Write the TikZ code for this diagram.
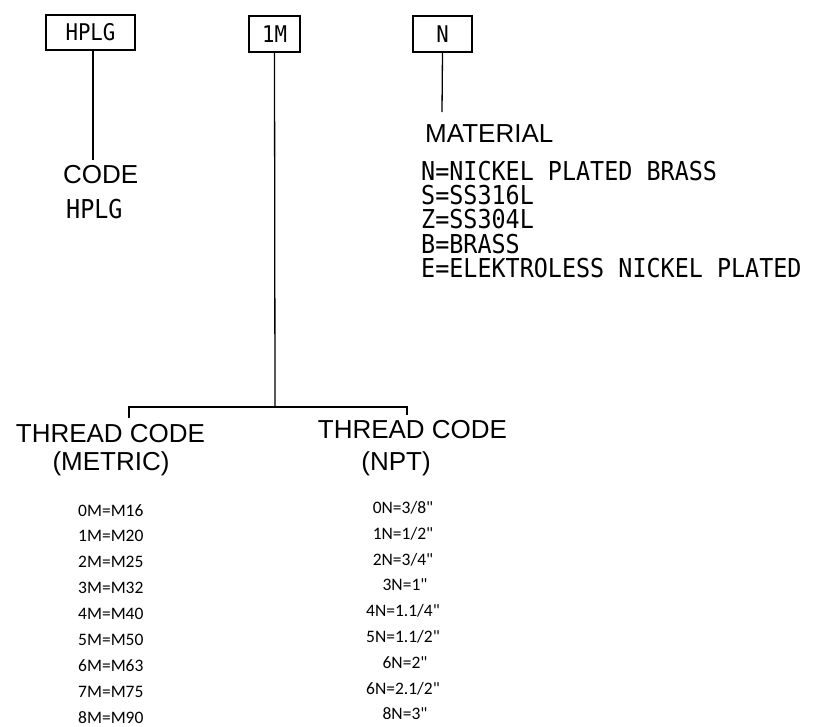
\documentclass[tikz,border=0pt]{standalone}
\usepackage{fontspec}
\setmainfont{Liberation Sans}
\newfontfamily\monof[FakeStretch=0.9]{DejaVu Sans Mono}
\newfontfamily\calf{Carlito}
\begin{document}
\begin{tikzpicture}[x=1pt,y=-1pt,
  boxlbl/.style={draw,line width=1.3pt,inner sep=0pt,font=\monof\fontsize{23}{23}\selectfont},
  head/.style={inner sep=0pt,font=\fontsize{26}{26}\selectfont},
  mono/.style={inner sep=0pt,font=\monof\fontsize{26}{24.3}\selectfont},
  met/.style={inner sep=0pt,font=\calf\fontsize{17.5}{17.5}\selectfont,anchor=base west,text height=12pt,text depth=0pt},
  npt/.style={inner sep=0pt,font=\calf\fontsize{17.5}{17.5}\selectfont,anchor=base,text height=12pt,text depth=0pt},
  conn/.style={line width=1.3pt}]
\useasboundingbox (0,0) rectangle (814,726);
% boxes
\node[boxlbl,minimum width=89pt,minimum height=35pt] (hplg) at (90.5,32.5) {HPLG};
\node[boxlbl,minimum width=51pt,minimum height=36pt] (m1) at (274.5,34) {1M};
\node[boxlbl,minimum width=59pt,minimum height=36pt] (nb) at (442.5,34) {N};
% code column
\node[head,anchor=base west] (code) at (63,183) {CODE};
\node[mono,anchor=base west] (codev) at (66,218) {HPLG};
\coordinate (c1) at (93,160);
\draw[conn] (hplg.south -| c1) -- (c1);
% material column
\coordinate (c3) at (442,112);
\draw[conn] (nb.south) -- (c3);
\node[head,anchor=base west] (mat) at (425,142) {MATERIAL};
\node[mono,anchor=base west,align=left] (matl) at (421,277.3)
  {N=NICKEL PLATED BRASS\\S=SS316L\\Z=SS304L\\B=BRASS\\E=ELEKTROLESS NICKEL PLATED};
% thread tree
\coordinate (j) at (275,407);
\coordinate (jl) at (129,407);
\coordinate (jr) at (407,407);
\coordinate (tl) at (129,418);
\coordinate (tr) at (407,415);
\draw[conn] (m1.south) -- (j);
\draw[conn] (tl) -- (jl) -- (jr) -- (tr);
\node[head,anchor=base] (tm1) at (110.5,442) {THREAD CODE};
\node[head,anchor=base] (tm2) at (111,470) {(METRIC)};
\node[head,anchor=base] (tn1) at (412.5,438) {THREAD CODE};
\node[head,anchor=base] (tn2) at (396,470) {(NPT)};
% metric list
\node[met] (a0) at (78,516) {0M=M16};
\node[met] (a1) at (78,541.9) {1M=M20};
\node[met] (a2) at (78,567.8) {2M=M25};
\node[met] (a3) at (78,593.7) {3M=M32};
\node[met] (a4) at (78,619.6) {4M=M40};
\node[met] (a5) at (78,645.5) {5M=M50};
\node[met] (a6) at (78,671.4) {6M=M63};
\node[met] (a7) at (78,697.3) {7M=M75};
\node[met] (a8) at (78,723.2) {8M=M90};
% npt list
\node[npt] (b0) at (403,513.5) {0N=3/8"};
\node[npt] (b1) at (403,539.3) {1N=1/2"};
\node[npt] (b2) at (403,565.1) {2N=3/4"};
\node[npt] (b3) at (405,590.9) {3N=1"};
\node[npt] (b4) at (403,616.7) {4N=1.1/4"};
\node[npt] (b5) at (403,642.5) {5N=1.1/2"};
\node[npt] (b6) at (405,668.3) {6N=2"};
\node[npt] (b7) at (403,694.1) {6N=2.1/2"};
\node[npt] (b8) at (405,719.9) {8N=3"};
\end{tikzpicture}
\end{document}
